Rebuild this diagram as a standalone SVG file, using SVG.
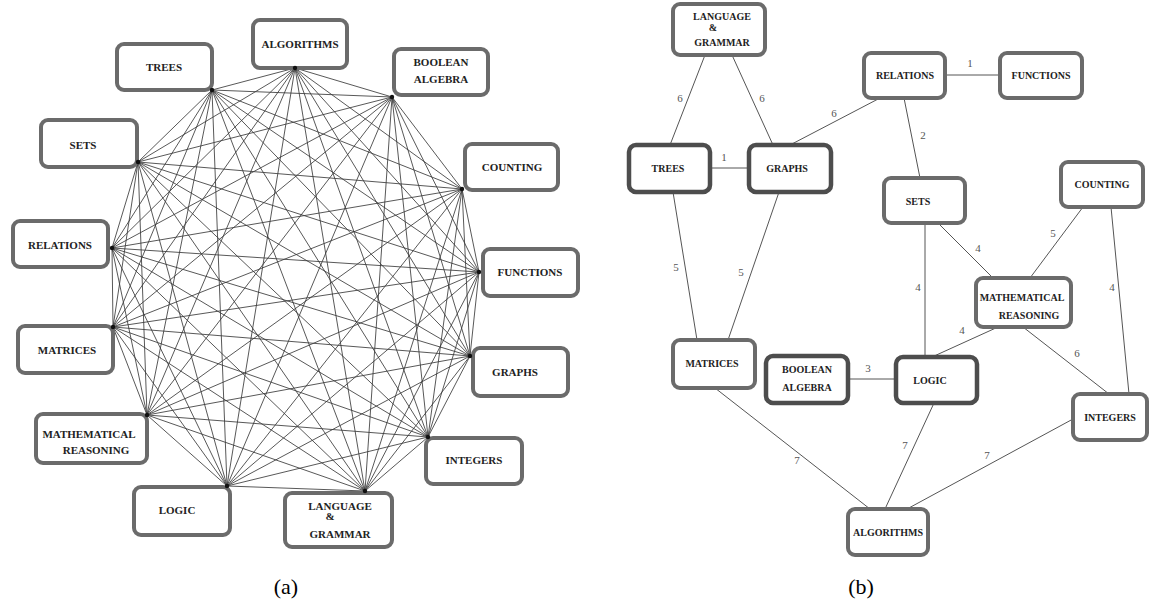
<svg xmlns="http://www.w3.org/2000/svg" width="1149" height="603" viewBox="0 0 1149 603">
<style>
.box{fill:#fff;stroke:#6b6b6b;stroke-width:4}
.bd{stroke:#4d4d4d;stroke-width:4.5}
.t{font-family:"Liberation Serif",serif;font-weight:bold;font-size:11px;fill:#222;text-anchor:middle}
.s{font-size:10px}
.e{stroke:#3a3a3a;stroke-width:0.85;fill:none}
.re{stroke:#555;stroke-width:1;fill:none}
.w{font-family:"Liberation Serif",serif;font-size:11px;fill:#555;text-anchor:middle}
.cap{font-family:"Liberation Serif",serif;font-size:22px;fill:#000;text-anchor:middle}
.v{fill:#111}
</style>
<rect width="1149" height="603" fill="#fff"/>
<g id="connectors-a">
<path class="e" d="M212 90L295 68M212 90L392 97M212 90L462 189M212 90L479 272M212 90L470 356M212 90L428 437M212 90L365 491M212 90L227 486M212 90L147 415M212 90L113 327M212 90L112 248M212 90L138 162
M295 68L392 97M295 68L462 189M295 68L479 272M295 68L470 356M295 68L428 437M295 68L365 491M295 68L227 486M295 68L147 415M295 68L113 327M295 68L112 248M295 68L138 162
M392 97L462 189M392 97L479 272M392 97L470 356M392 97L428 437M392 97L365 491M392 97L227 486M392 97L147 415M392 97L113 327M392 97L112 248M392 97L138 162
M462 189L479 272M462 189L470 356M462 189L428 437M462 189L365 491M462 189L227 486M462 189L147 415M462 189L113 327M462 189L112 248M462 189L138 162
M479 272L470 356M479 272L428 437M479 272L365 491M479 272L227 486M479 272L147 415M479 272L113 327M479 272L112 248M479 272L138 162
M470 356L428 437M470 356L365 491M470 356L227 486M470 356L147 415M470 356L113 327M470 356L112 248M470 356L138 162
M428 437L365 491M428 437L227 486M428 437L147 415M428 437L113 327M428 437L112 248M428 437L138 162
M365 491L227 486M365 491L147 415M365 491L113 327M365 491L112 248M365 491L138 162
M227 486L147 415M227 486L113 327M227 486L112 248M227 486L138 162
M147 415L113 327M147 415L112 248M147 415L138 162
M113 327L112 248M113 327L138 162
M112 248L138 162"/>
</g>
<g id="a-trees"><rect class="box" x="117" y="44" width="95" height="46" rx="7"/><text class="t" x="164" y="71">TREES</text></g>
<g id="a-algorithms"><rect class="box" x="253" y="20" width="94" height="48" rx="7"/><text class="t" x="300" y="48">ALGORITHMS</text></g>
<g id="a-boolean"><rect class="box" x="394" y="49" width="94" height="46" rx="7"/><text class="t" x="441" y="66">BOOLEAN</text><text class="t" x="441" y="83">ALGEBRA</text></g>
<g id="a-counting"><rect class="box" x="465" y="144" width="93" height="46" rx="7"/><text class="t" x="512" y="171">COUNTING</text></g>
<g id="a-functions"><rect class="box" x="483" y="249" width="95" height="47" rx="7"/><text class="t" x="530" y="276">FUNCTIONS</text></g>
<g id="a-sets"><rect class="box" x="41" y="120" width="96" height="47" rx="7"/><text class="t" x="83" y="149">SETS</text></g>
<g id="a-relations"><rect class="box" x="13" y="221" width="95" height="46" rx="7"/><text class="t" x="60" y="249">RELATIONS</text></g>
<g id="a-matrices"><rect class="box" x="18" y="326" width="95" height="47" rx="7"/><text class="t" x="67" y="354">MATRICES</text></g>
<g id="a-math"><rect class="box" x="36" y="414" width="111" height="49" rx="7"/><text class="t" x="89" y="438">MATHEMATICAL</text><text class="t" x="96" y="454">REASONING</text></g>
<g id="a-logic"><rect class="box" x="134" y="487" width="96" height="48" rx="7"/><text class="t" x="177" y="514">LOGIC</text></g>
<g id="a-language"><rect class="box" x="285" y="493" width="107" height="54" rx="7"/><text class="t" x="340" y="510">LANGUAGE</text><text class="t" x="330" y="520">&amp;</text><text class="t" x="340" y="538">GRAMMAR</text></g>
<g id="a-integers"><rect class="box" x="426" y="438" width="96" height="46" rx="7"/><text class="t" x="474" y="464">INTEGERS</text></g>
<g id="a-graphs"><rect class="box" x="473" y="348" width="95" height="48" rx="7"/><text class="t" x="515" y="376">GRAPHS</text></g>
<g id="vertices-a">
<circle class="v" cx="212" cy="90" r="2.2"/><circle class="v" cx="295" cy="68" r="2.2"/><circle class="v" cx="392" cy="97" r="2.2"/><circle class="v" cx="462" cy="189" r="2.2"/><circle class="v" cx="479" cy="272" r="2.2"/><circle class="v" cx="470" cy="356" r="2.2"/><circle class="v" cx="428" cy="437" r="2.2"/><circle class="v" cx="365" cy="491" r="2.2"/><circle class="v" cx="227" cy="486" r="2.2"/><circle class="v" cx="147" cy="415" r="2.2"/><circle class="v" cx="113" cy="327" r="2.2"/><circle class="v" cx="112" cy="248" r="2.2"/><circle class="v" cx="138" cy="162" r="2.2"/>
</g>
<text class="cap" x="286" y="594">(a)</text>

<g id="connectors-b">
<path class="re" d="M705 55L670 145M732 55L773 145M880 98L790 145M710 168L749 168M945 75L1000 75M904 98L920 178M673 192L697 340M779 192L728 340M925 223L925 357M938 223L993 278M1083 207L1030 278M1111 207L1129 394M998 327L932 357M1023 327L1109 394M848 379L896 379M715 388L870 509M934 403L885 509M1073 419L907 509"/>
<text class="w" x="680" y="102">6</text>
<text class="w" x="762" y="102">6</text>
<text class="w" x="834" y="117">6</text>
<text class="w" x="724" y="161">1</text>
<text class="w" x="970" y="67">1</text>
<text class="w" x="923" y="139">2</text>
<text class="w" x="676" y="271">5</text>
<text class="w" x="741" y="276">5</text>
<text class="w" x="918" y="291">4</text>
<text class="w" x="978" y="252">4</text>
<text class="w" x="1053" y="237">5</text>
<text class="w" x="1112" y="291">4</text>
<text class="w" x="962" y="334">4</text>
<text class="w" x="1077" y="357">6</text>
<text class="w" x="868" y="372">3</text>
<text class="w" x="797" y="464">7</text>
<text class="w" x="905" y="449">7</text>
<text class="w" x="987" y="459">7</text>
</g>
<g id="b-language"><rect class="box" x="673" y="4" width="92" height="51" rx="7"/><text class="t s" x="722" y="20">LANGUAGE</text><text class="t s" x="713" y="31">&amp;</text><text class="t s" x="722" y="46">GRAMMAR</text></g>
<g id="b-trees"><rect class="box bd" x="629" y="145" width="81" height="47" rx="7"/><text class="t s" x="668" y="172">TREES</text></g>
<g id="b-graphs"><rect class="box bd" x="749" y="145" width="82" height="47" rx="7"/><text class="t s" x="787" y="172">GRAPHS</text></g>
<g id="b-relations"><rect class="box" x="864" y="53" width="81" height="45" rx="7"/><text class="t s" x="905" y="79">RELATIONS</text></g>
<g id="b-functions"><rect class="box" x="1000" y="53" width="82" height="45" rx="7"/><text class="t s" x="1041" y="79">FUNCTIONS</text></g>
<g id="b-sets"><rect class="box" x="884" y="178" width="81" height="45" rx="7"/><text class="t s" x="918" y="205">SETS</text></g>
<g id="b-counting"><rect class="box" x="1061" y="162" width="82" height="45" rx="7"/><text class="t s" x="1102" y="188">COUNTING</text></g>
<g id="b-math"><rect class="box" x="976" y="278" width="95" height="49" rx="7"/><text class="t s" x="1022" y="301">MATHEMATICAL</text><text class="t s" x="1029" y="319">REASONING</text></g>
<g id="b-logic"><rect class="box bd" x="896" y="357" width="81" height="46" rx="7"/><text class="t s" x="930" y="384">LOGIC</text></g>
<g id="b-integers"><rect class="box" x="1073" y="394" width="74" height="46" rx="7"/><text class="t s" x="1110" y="421">INTEGERS</text></g>
<g id="b-algorithms"><rect class="box" x="848" y="509" width="80" height="46" rx="7"/><text class="t s" x="888" y="536">ALGORITHMS</text></g>
<g id="b-matrices"><rect class="box" x="673" y="340" width="82" height="48" rx="7"/><text class="t s" x="712" y="367">MATRICES</text></g>
<g id="b-boolean"><rect class="box bd" x="766" y="356" width="82" height="47" rx="7"/><text class="t s" x="807" y="373">BOOLEAN</text><text class="t s" x="807" y="391">ALGEBRA</text></g>
<text class="cap" x="861" y="594">(b)</text>
</svg>
